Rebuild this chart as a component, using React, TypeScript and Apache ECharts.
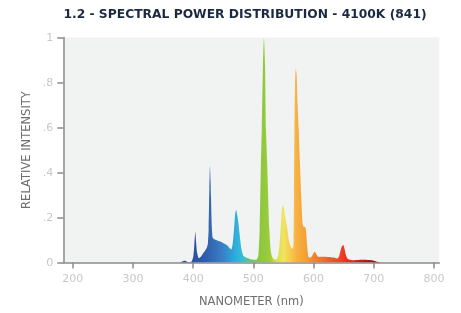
import React, { useEffect, useRef } from "react";
import * as echarts from "echarts";

const TITLE = "1.2 - SPECTRAL POWER DISTRIBUTION - 4100K (841)";
const X_NAME = "NANOMETER (nm)";
const Y_NAME = "RELATIVE INTENSITY";
const X_TICKS = [200, 300, 400, 500, 600, 700, 800];

const WAVELENGTHS = [
  378, 382, 385, 388, 391, 395, 398, 400.5, 402, 403.6, 405, 406.5, 409.5, 413, 416.5, 420, 422.5,
  424.5, 425.8, 427, 428, 429, 429.7, 431, 432.5, 436, 441, 446, 451, 456, 460, 463.5, 466, 468,
  470, 471.5, 473, 475, 477, 480, 483.5, 488, 494, 502, 506, 508.3, 510.5, 512.6, 514, 516, 517.6,
  519.4, 521, 523, 526.5, 529, 532, 536, 539, 541.5, 543.5, 545.5, 547, 548.5, 550.5, 553, 556.3,
  559, 562, 565.3, 566.8, 567.5, 568.3, 569.3, 570.5, 572, 573, 575.3, 577.4, 579.6, 581.5, 583,
  586, 587.5, 589.5, 591.5, 595, 598.5, 601.5, 604, 607.5, 615, 625, 633, 638.5, 642, 644.5, 647,
  649.3, 651.5, 654, 657.5, 664, 672, 682, 692, 699, 704, 708, 712,
];
const INTENSITY = [
  0, 0.004, 0.008, 0.007, 0.002, 0.002, 0.006, 0.03, 0.08, 0.137, 0.09, 0.045, 0.02, 0.026, 0.04,
  0.053, 0.064, 0.085, 0.15, 0.33, 0.43, 0.36, 0.29, 0.16, 0.11, 0.102, 0.097, 0.092, 0.085, 0.078,
  0.066, 0.058, 0.09, 0.15, 0.22, 0.235, 0.215, 0.18, 0.13, 0.065, 0.03, 0.022, 0.016, 0.012, 0.015,
  0.03, 0.15, 0.44, 0.59, 0.885, 1.0, 0.885, 0.59, 0.44, 0.15, 0.05, 0.02, 0.012, 0.016, 0.035, 0.08,
  0.15, 0.22, 0.255, 0.245, 0.2, 0.15, 0.1, 0.07, 0.06, 0.09, 0.3, 0.6, 0.8, 0.863, 0.83, 0.737, 0.59,
  0.44, 0.29, 0.18, 0.16, 0.158, 0.14, 0.07, 0.025, 0.022, 0.035, 0.048, 0.04, 0.026, 0.026, 0.025,
  0.022, 0.018, 0.025, 0.05, 0.072, 0.078, 0.06, 0.03, 0.014, 0.01, 0.011, 0.012, 0.011, 0.009, 0.005,
  0.002, 0,
];

// spectrum colour stops (wavelength -> colour)
const STOP_NM = [387, 420, 450, 471, 485, 494, 510, 527, 540, 550, 561, 572, 587, 602, 624, 644, 654, 674, 694, 712];
const STOP_COLORS = [
  "#2a4898", "#2f5cac", "#3a80c6", "#2eaede", "#3cc2c8", "#6cc07a", "#8cc63f", "#9ccc3c",
  "#d8e050", "#f0e460", "#f6cc50", "#f7b042", "#f5a032", "#f28232", "#ee6030", "#ec4426",
  "#e63222", "#cc2020", "#a01818", "#7a1010",
];

export default function App() {
  const ref = useRef<HTMLDivElement>(null);
  useEffect(() => {
    if (!ref.current) return;
    const chart = echarts.init(ref.current, null, { renderer: "svg" });
    const lo = WAVELENGTHS[0];
    const hi = WAVELENGTHS[WAVELENGTHS.length - 1];
    const stops = STOP_NM.map((nm, i) => ({
      offset: Math.min(1, Math.max(0, (nm - lo) / (hi - lo))),
      color: STOP_COLORS[i],
    }));
    const axisGray = "#8a8a8a";
    chart.setOption({
      animation: false,
      graphic: [
        {
          type: "text",
          x: 245,
          y: 14,
          style: {
            text: TITLE,
            fill: "#1b2a41",
            font: "bold 12.3px 'DejaVu Sans', sans-serif",
            align: "center",
            verticalAlign: "middle",
          },
        },
      ],
      grid: {
        left: 63.3,
        right: 21.7,
        top: 37.5,
        bottom: 50.5,
        show: true,
        backgroundColor: "#f1f2f2",
        borderWidth: 0,
      },
      xAxis: {
        type: "value",
        min: 184.4,
        max: 808.8,
        name: X_NAME,
        nameLocation: "middle",
        nameGap: 32,
        nameTextStyle: { color: "#6e6e6e", fontSize: 11.5, fontFamily: "'DejaVu Sans', sans-serif" },
        axisLine: { show: true, onZero: false, lineStyle: { color: axisGray, width: 1.5 } },
        axisTick: { show: true, length: 6, customValues: X_TICKS, lineStyle: { color: axisGray, width: 1.5 } },
        axisLabel: {
          customValues: X_TICKS,
          color: "#c8c8c8",
          fontSize: 11,
          margin: 10,
          fontFamily: "'DejaVu Sans', sans-serif",
        },
        splitLine: { show: false },
      },
      yAxis: {
        type: "value",
        min: 0,
        max: 1,
        interval: 0.2,
        name: Y_NAME,
        nameLocation: "middle",
        nameGap: 30,
        nameTextStyle: { color: "#6e6e6e", fontSize: 11.5, fontFamily: "'DejaVu Sans', sans-serif" },
        axisLine: { show: true, lineStyle: { color: axisGray, width: 1.5 } },
        axisTick: { show: true, length: 6, lineStyle: { color: axisGray, width: 1.5 } },
        axisLabel: {
          color: "#c8c8c8",
          fontSize: 11,
          margin: 10,
          fontFamily: "'DejaVu Sans', sans-serif",
          formatter: (v: number) => {
            const t = Math.round(v * 10);
            if (t === 0) return "0";
            if (t === 10) return "1";
            return "." + t;
          },
        },
        splitLine: { show: false },
      },
      series: [
        {
          type: "line",
          data: WAVELENGTHS.map((w, i) => [w, INTENSITY[i]]),
          showSymbol: false,
          smooth: 0.2,
          lineStyle: { width: 0 },
          areaStyle: {
            opacity: 1,
            color: { type: "linear", x: 0, y: 0, x2: 1, y2: 0, colorStops: stops },
          },
        },
      ],
    });
    return () => chart.dispose();
  }, []);
  return (
    <div ref={ref} style={{ position: "fixed", left: 0, top: 0, width: 461, height: 313 }} />
  );
}
